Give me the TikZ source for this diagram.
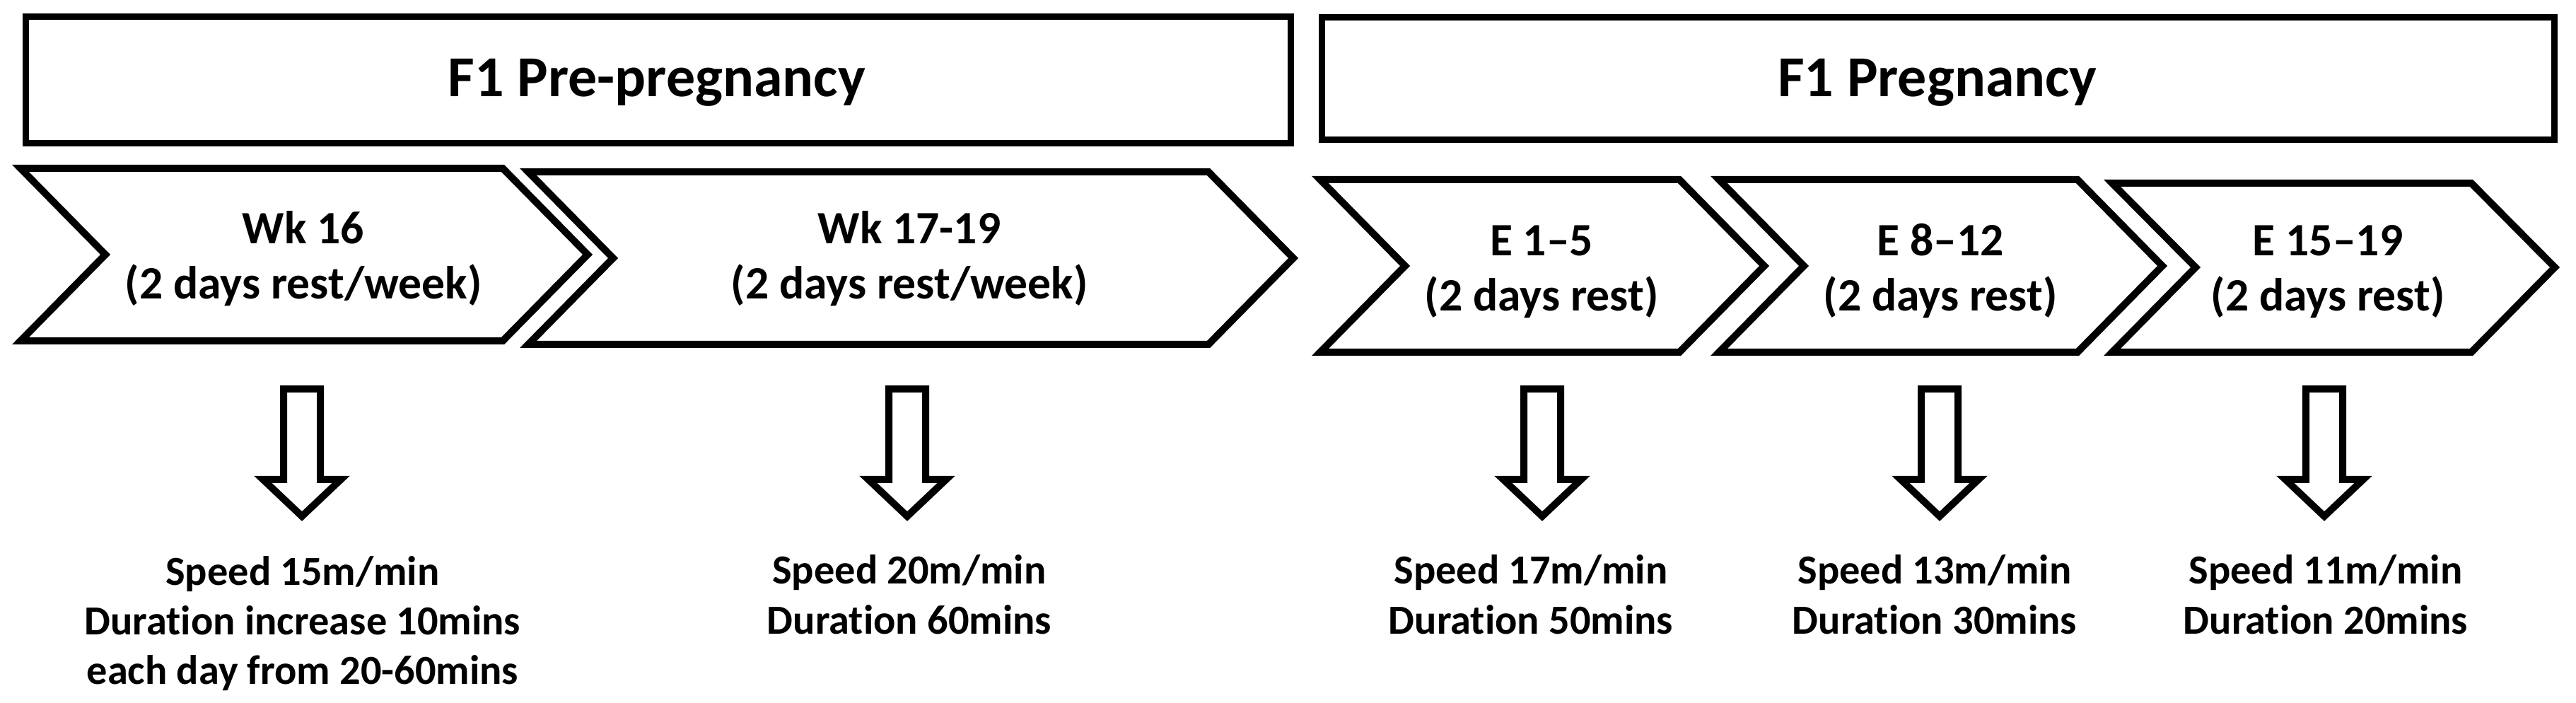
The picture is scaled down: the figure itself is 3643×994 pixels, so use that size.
\documentclass[tikz,border=0pt]{standalone}
\usepackage{fontspec}
\setmainfont{Carlito}[Ligatures=NoCommon]
\usepackage{tikz}
\tikzstyle{phasebox}=[
        draw=black,
        line width=2.25pt
]
\tikzstyle{chevron}=[
        draw=black,
        fill=white,
        line width=2.5pt,
        line join=miter
]
\tikzstyle{blockarrow}=[
        draw=black,
        fill=white,
        line width=2.5pt,
        line join=miter
]
\tikzstyle{phasetitle}=[
        font=\bfseries\fontsize{20.5}{24.6}\selectfont,
        anchor=base,
        inner sep=0pt
]
\tikzstyle{stagetext}=[
        font=\bfseries\fontsize{16.4}{19.7}\selectfont,
        align=center,
        anchor=base,
        inner sep=0pt
]
\tikzstyle{speedtext}=[
        font=\bfseries\fontsize{14.6}{17.5}\selectfont,
        align=center,
        anchor=base,
        inner sep=0pt
]

\begin{document}
\begin{tikzpicture}[x=0.25pt, y=-0.25pt]
                        \useasboundingbox (0,0) rectangle (3643,994);

                        \draw[phasebox] (36,24) rectangle (1825,203);
                        \draw[phasebox] (1869,25) rectangle (3612,198);
                        \node[phasetitle] (prepreg) at (929,137) {F1 Pre-pregnancy};
                        \node[phasetitle] (preg) at (2740,137) {F1 Pregnancy};

                        \draw[chevron] (29,238) -- (711,238) -- (831,360) -- (711,482) -- (29,482) -- (149,360) -- cycle;

                        \draw[chevron] (747,243) -- (1709,243) -- (1829,365) -- (1709,487) -- (747,487) -- (867,365) -- cycle;

                        \draw[chevron] (1867,254) -- (2375,254) -- (2495,376) -- (2375,498) -- (1867,498) -- (1987,376) -- cycle;

                        \draw[chevron] (2431,254) -- (2938,254) -- (3058,376) -- (2938,498) -- (2431,498) -- (2551,376) -- cycle;

                        \draw[chevron] (2987,259) -- (3495,259) -- (3613,378) -- (3495,498) -- (2987,498) -- (3105,378) -- cycle;

                        \node[stagetext] (wk16) at (429,423) {Wk 16\\(2 days rest/week)};
                        \node[stagetext] (wk17) at (1286,423) {Wk 17-19\\(2 days rest/week)};
                        \node[stagetext] (e1) at (2180,440) {E 1–5\\(2 days rest)};
                        \node[stagetext] (e8) at (2744,440) {E 8–12\\(2 days rest)};
                        \node[stagetext] (e15) at (3292,440) {E 15–19\\(2 days rest)};

                        \foreach \c in {427,1283,2181,2743,3287} {
                            \draw[blockarrow] (\c-26,550) -- (\c+26,550) -- (\c+26,678) -- (\c+55,678) -- (\c,730) -- (\c-55,678) -- (\c-26,678) -- cycle;
                        }

                        \node[speedtext] (sp15) at (428,967) {Speed 15m/min\\Duration increase 10mins\\each day from 20-60mins};
                        \node[speedtext] (sp20) at (1286,896) {Speed 20m/min\\Duration 60mins};
                        \node[speedtext] (sp17) at (2165,896) {Speed 17m/min\\Duration 50mins};
                        \node[speedtext] (sp13) at (2736,896) {Speed 13m/min\\Duration 30mins};
                        \node[speedtext] (sp11) at (3289,896) {Speed 11m/min\\Duration 20mins};

                    \end{tikzpicture}
\end{document}
